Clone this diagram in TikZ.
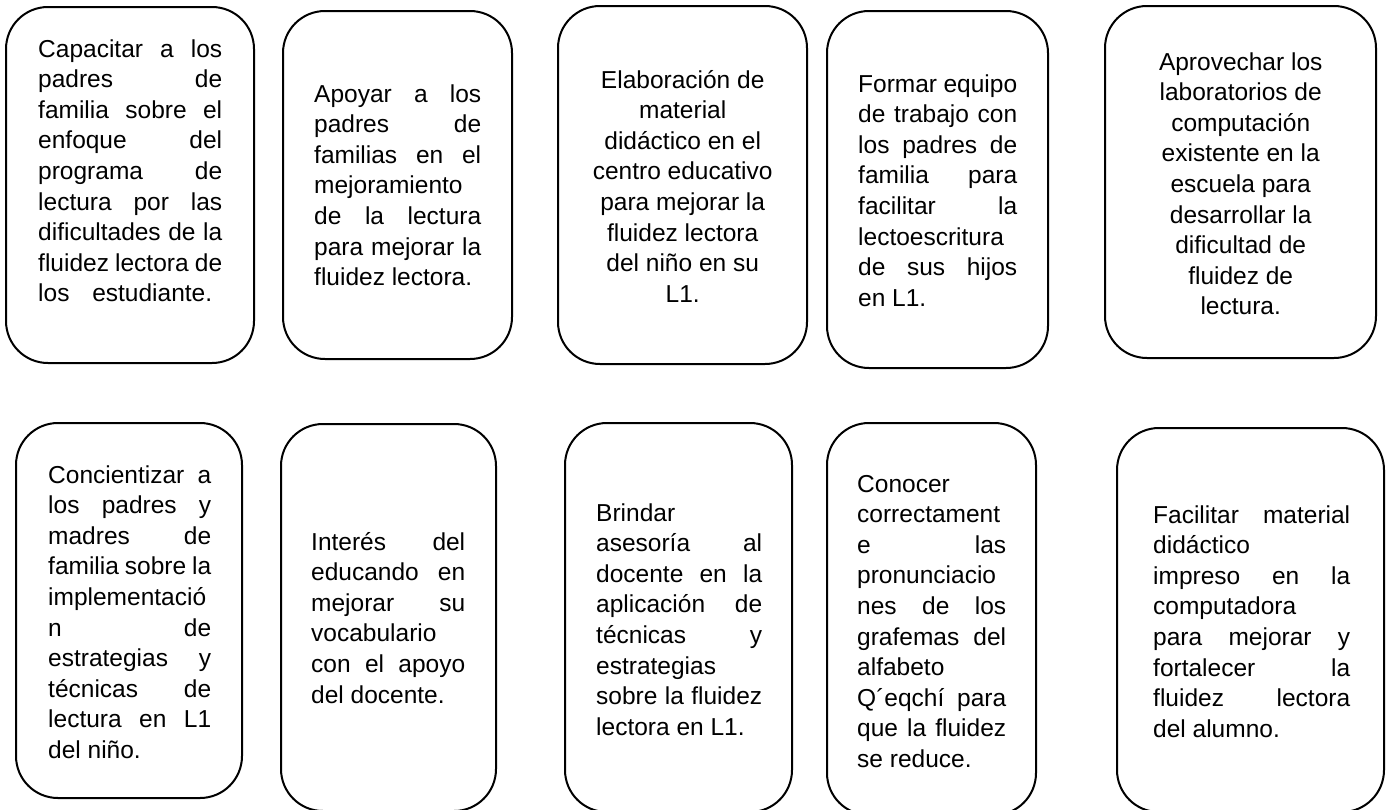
\documentclass[tikz,border=0pt]{standalone}
\usepackage{fontspec}
\setmainfont{Liberation Sans}
\newcommand\tb[2]{\vtop{\hsize=#1\relax\baselineskip=30.6pt\lineskiplimit=-100pt\parindent=0pt #2}}
\newcommand\J[1]{\hbox to \hsize{#1}}
\newcommand\Lf[1]{\hbox to \hsize{#1\hfil}}
\newcommand\Ce[1]{\hbox to \hsize{\hfil#1\hfil}}
\tikzset{
  box/.style={draw, line width=2pt, rounded corners=42pt, inner sep=0pt, rectangle},
  txt/.style={inner sep=0pt, anchor=base west, font=\fontsize{24.5}{30.6}\selectfont}
}
\begin{document}
\begin{tikzpicture}[x=1pt,y=-1pt]
\useasboundingbox (0,0) rectangle (1392,809);
% top row boxes
\node[box, minimum width=248pt, minimum height=356pt] (b1) at (130,185) {};
\node[box, minimum width=229pt, minimum height=348pt] (b2) at (397.5,185) {};
\node[box, minimum width=249pt, minimum height=358pt] (b3) at (682.5,185) {};
\node[box, minimum width=221pt, minimum height=357pt] (b4) at (937.5,189.5) {};
\node[box, minimum width=271pt, minimum height=352pt] (b5) at (1240.5,182) {};
% bottom row boxes
\node[box, minimum width=226pt, minimum height=375pt] (b6) at (129,610.5) {};
\node[box, minimum width=215pt, minimum height=387pt] (b7) at (388.5,617.5) {};
\node[box, minimum width=227pt, minimum height=389pt] (b8) at (678.5,617.5) {};
\node[box, minimum width=209pt, minimum height=392pt] (b9) at (931.5,619) {};
\node[box, minimum width=267pt, minimum height=384pt] (b10) at (1250.5,620) {};
% texts
\node[txt] (t1) at (38,57) {\tb{184pt}{%
\J{Capacitar a los}
\J{padres de}
\J{familia sobre el}
\J{enfoque del}
\J{programa de}
\J{lectura por las}
\J{dificultades de la}
\J{fluidez lectora de}
\Lf{los\hspace{16pt} estudiante.}}};
\node[txt] (t2) at (314,102) {\tb{167pt}{%
\J{Apoyar a los}
\J{padres de}
\J{familias en el}
\Lf{mejoramiento}
\J{de la lectura}
\J{para mejorar la}
\Lf{fluidez lectora.}}};
\node[txt] (t3) at (582.5,88) {\tb{200pt}{%
\Ce{Elaboración de}
\Ce{material}
\Ce{didáctico en el}
\Ce{centro educativo}
\Ce{para mejorar la}
\Ce{fluidez lectora}
\Ce{del niño en su}
\Ce{L1.}}};
\node[txt] (t4) at (858,92) {\tb{159pt}{%
\J{Formar equipo}
\J{de trabajo con}
\J{los padres de}
\J{familia para}
\J{facilitar la}
\Lf{lectoescritura}
\J{de sus hijos}
\Lf{en L1.}}};
\node[txt] (t5) at (1140.5,70) {\tb{200pt}{%
\Ce{Aprovechar los}
\Ce{laboratorios de}
\Ce{computación}
\Ce{existente en la}
\Ce{escuela para}
\Ce{desarrollar la}
\Ce{dificultad de}
\Ce{fluidez de}
\Ce{lectura.}}};
\node[txt] (t6) at (48,483) {\tb{163pt}{%
\J{Concientizar a}
\J{los padres y}
\J{madres de}
\J{familia sobre la}
\Lf{implementació}
\J{n de}
\J{estrategias y}
\J{técnicas de}
\J{lectura en L1}
\Lf{del niño.}}};
\node[txt] (t7) at (311,550) {\tb{154pt}{%
\J{Interés del}
\J{educando en}
\J{mejorar su}
\Lf{vocabulario}
\J{con el apoyo}
\Lf{del docente.}}};
\node[txt] (t8) at (596,521) {\tb{166pt}{%
\Lf{Brindar}
\J{asesoría al}
\J{docente en la}
\J{aplicación de}
\J{técnicas y}
\Lf{estrategias}
\J{sobre la fluidez}
\Lf{lectora en L1.}}};
\node[txt] (t9) at (857,492) {\tb{149pt}{%
\Lf{Conocer}
\Lf{correctament}
\J{e las}
\Lf{pronunciacio}
\J{nes de los}
\J{grafemas del}
\Lf{alfabeto}
\J{Q´eqchí para}
\J{que la fluidez}
\Lf{se reduce.}}};
\node[txt] (t10) at (1153,523) {\tb{197pt}{%
\J{Facilitar material}
\Lf{didáctico}
\J{impreso en la}
\Lf{computadora}
\J{para mejorar y}
\J{fortalecer la}
\J{fluidez lectora}
\Lf{del alumno.}}};
\end{tikzpicture}
\end{document}
